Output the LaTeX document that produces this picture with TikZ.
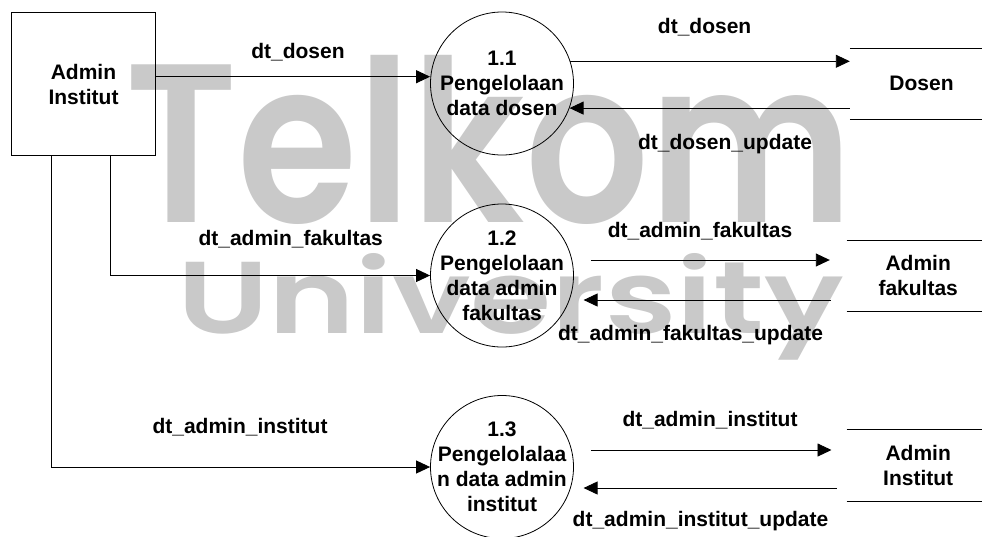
\documentclass[tikz,border=0pt]{standalone}
\usepackage{graphicx}
\usepackage{fontspec}
\setmainfont{Liberation Sans}
\newfontfamily\wmfont{Poppins}[UprightFont=* SemiBold]
\usetikzlibrary{arrows.meta}
\definecolor{wmgray}{RGB}{201,201,201}

\begin{document}
\begin{tikzpicture}[x=1pt,y=-1pt,
  txt/.style={font=\bfseries\fontsize{21}{25}\selectfont},
  lbl/.style={txt, inner sep=0pt, anchor=base},
  extbox/.style={txt, draw, line width=0.9pt, minimum width=143.6pt, minimum height=143.4pt, inner sep=0pt, align=center},
  proc/.style={circle, draw, line width=0.8pt, minimum size=143pt, inner sep=0pt},
  proctext/.style={txt, align=center, inner sep=0pt},
  store/.style={txt, minimum width=143pt, minimum height=71pt, inner sep=0pt, align=center},
  storeline/.style={line width=0.9pt},
  flow/.style={line width=0.9pt, -{Triangle[length=14pt,width=13pt]}},
  wm/.style={inner sep=0pt, text=wmgray}
]
\useasboundingbox (0,0) rectangle (982,536);
\clip (0,0) rectangle (982,536);

% background lettering
\node[wm, anchor=south west] (wm1) at (125,225) {\resizebox{727pt}{167pt}{\wmfont Telkom}};
\node[wm, anchor=base west] (wm2) at (177,333) {\resizebox{666pt}{80pt}{\wmfont University}};

% external entity
\node[extbox] (ext) at (83.5,84) {Admin\\Institut};

% processes
\node[proc] (p1) at (502,83.5) {};
\node[proctext] (p1t) at (p1) {1.1\\Pengelolaan\\data dosen};
\node[proc] (p2) at (502,275.5) {};
\node[proctext] (p2t) at (p2) {1.2\\Pengelolaan\\data admin\\fakultas};
\node[proc] (p3) at (502,467) {};
\node[proctext] (p3t) at (p3) {1.3\\Pengelolalaa\\n data admin\\institut};

% data stores
\node[store] (s1) at (921.5,83.8) {Dosen};
\node[store] (s2) at (918.2,275.85) {Admin\\fakultas};
\node[store] (s3) at (918.2,465.5) {Admin\\Institut};
\foreach \s in {s1,s2,s3}{
  \draw[storeline] (\s.north west) -- (\s.north east);
  \draw[storeline] (\s.south west) -- (\s.south east);
}

% flows from the external entity
\draw[flow] ([yshift=7.3pt]ext.east) -- ([yshift=7.3pt]ext.east -| p1.west);
\draw[flow] ([xshift=27.2pt]ext.south) |- (p2.west);
\draw[flow] ([xshift=-32.5pt]ext.south) |- (p3.west);

% flows between processes and stores
\draw[flow] (p1.18.5) -- (p1.18.5 -| s1.west);
\draw[flow] (p1.-20 -| s1.west) -- (p1.-20);

\coordinate (o2s) at ([xshift=17pt,yshift=15.5pt]p2.east);
\coordinate (o2e) at (o2s -| s2.west);
\draw[flow] (o2s) -- ([xshift=-16.7pt]o2e);
\coordinate (r2e) at ([xshift=9.7pt,yshift=-24.5pt]p2.east);
\coordinate (r2s) at (r2e -| s2.west);
\draw[flow] ([xshift=-16pt]r2s) -- (r2e);

\coordinate (o3s) at ([xshift=17pt,yshift=17pt]p3.east);
\coordinate (o3e) at (o3s -| s3.west);
\draw[flow] (o3s) -- ([xshift=-15pt]o3e);
\coordinate (r3e) at ([xshift=9.7pt,yshift=-21pt]p3.east);
\coordinate (r3s) at (r3e -| s3.west);
\draw[flow] ([xshift=-10pt]r3s) -- (r3e);

% flow labels
\node[lbl] (l1) at (298,58) {dt\_dosen};
\node[lbl] (l2) at (704.6,33) {dt\_dosen};
\node[lbl] (l3) at (725,149.5) {dt\_dosen\_update};
\node[lbl] (l4) at (290.7,245) {dt\_admin\_fakultas};
\node[lbl] (l5) at (700,237) {dt\_admin\_fakultas};
\node[lbl] (l6) at (690.5,340) {dt\_admin\_fakultas\_update};
\node[lbl] (l7) at (240,433) {dt\_admin\_institut};
\node[lbl] (l8) at (710,426.5) {dt\_admin\_institut};
\node[lbl] (l9) at (700.5,526) {dt\_admin\_institut\_update};
\end{tikzpicture}
\end{document}
